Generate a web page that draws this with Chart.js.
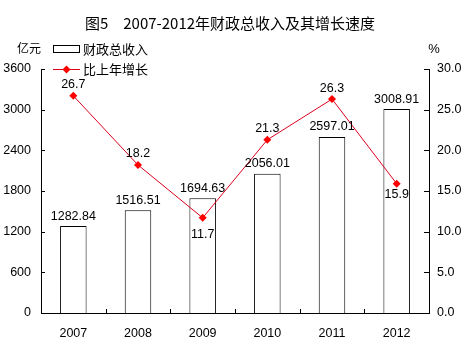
<!DOCTYPE html>
<html>
<head>
<meta charset="utf-8">
<script src="https://cdn.jsdelivr.net/npm/chart.js@4/dist/chart.umd.min.js"></script>
<style>
  html, body { margin: 0; padding: 0; background: #fff; overflow: hidden; }
  #wrap { width: 462px; height: 344px; }
</style>
</head>
<body>
<div id="wrap"><canvas id="grafico"></canvas></div>
<script>
// datos del grafico
const anios = ['2007', '2008', '2009', '2010', '2011', '2012'];
const ingresos = [1282.84, 1516.51, 1694.63, 2056.01, 2597.01, 3008.91];
const crecimiento = [26.7, 18.2, 11.7, 21.3, 26.3, 15.9];
const posEtiquetaLinea = ['top', 'top', 'bottom', 'top', 'top', 'bottom'];

const titulo = '图5　2007-2012年财政总收入及其增长速度';
const fuenteNum = '"Liberation Sans", Arial, sans-serif';
const fuenteCJK = '"Noto Sans CJK SC", "Liberation Sans", sans-serif';
const rojo = 'rgb(220,0,30)';
const rojoPunto = '#ff0000';

const dibujosExtra = {
    id: 'dibujosExtra',
    afterDraw(chart) {
        const ctx = chart.ctx;
        const area = chart.chartArea;
        const x = chart.scales.x, yL = chart.scales.y, yR = chart.scales.y1;
        ctx.save();

        // titulo
        ctx.fillStyle = '#000';
        ctx.font = '15px ' + fuenteCJK;
        ctx.textAlign = 'center';
        ctx.textBaseline = 'middle';
        ctx.fillText(titulo, 230, 23);

        // unidades
        ctx.font = '12px ' + fuenteCJK;
        ctx.fillText('亿元', 29, 48);
        ctx.font = '13px ' + fuenteNum;
        ctx.fillText('%', 434, 49);

        // marcas de los ejes hacia dentro
        ctx.strokeStyle = '#000';
        ctx.lineWidth = 1;
        ctx.beginPath();
        yL.ticks.forEach((t, i) => {
            const py = Math.round(yL.getPixelForTick(i)) + 0.5;
            ctx.moveTo(area.left, py); ctx.lineTo(area.left + 4, py);
        });
        yR.ticks.forEach((t, i) => {
            const py = Math.round(yR.getPixelForTick(i)) + 0.5;
            ctx.moveTo(area.right - 5, py); ctx.lineTo(area.right, py);
        });
        for (let i = 1; i < anios.length; i++) {
            const px = Math.round((x.getPixelForTick(i - 1) + x.getPixelForTick(i)) / 2) + 0.5;
            ctx.moveTo(px, area.bottom); ctx.lineTo(px, area.bottom - 4);
        }
        ctx.stroke();

        // etiquetas de valores
        ctx.fillStyle = '#000';
        ctx.font = '12.5px ' + fuenteNum;
        ctx.textAlign = 'center';
        chart.getDatasetMeta(0).data.forEach((barra, i) => {
            ctx.fillText(ingresos[i].toFixed(2), barra.x, barra.y - 10);
        });
        chart.getDatasetMeta(1).data.forEach((punto, i) => {
            const dy = posEtiquetaLinea[i] === 'top' ? -11 : (i === 2 ? 17 : 11);
            ctx.fillText(crecimiento[i].toFixed(1), punto.x, punto.y + dy);
        });

        // leyenda
        ctx.fillStyle = '#fff';
        ctx.fillRect(53.5, 45.5, 26, 7);
        ctx.strokeStyle = '#000';
        ctx.strokeRect(53.5, 45.5, 26, 7);
        ctx.fillStyle = '#000';
        ctx.textAlign = 'left';
        ctx.font = '13px ' + fuenteCJK;
        ctx.fillText('财政总收入', 83, 49);
        ctx.strokeStyle = rojo;
        ctx.beginPath();
        ctx.moveTo(53, 69.5); ctx.lineTo(80, 69.5);
        ctx.stroke();
        ctx.fillStyle = rojoPunto;
        ctx.beginPath();
        ctx.moveTo(66.5, 65.5); ctx.lineTo(70.5, 69.5); ctx.lineTo(66.5, 73.5); ctx.lineTo(62.5, 69.5);
        ctx.closePath();
        ctx.fill();
        ctx.fillStyle = '#000';
        ctx.fillText('比上年增长', 83, 69);

        ctx.restore();
    }
};

const sinRejilla = { display: false, drawTicks: false, tickLength: 0 };

const ctxGrafico = document.getElementById('grafico').getContext('2d');
new Chart(ctxGrafico, {
    data: {
        labels: anios,
        datasets: [{
            type: 'bar',
            label: '财政总收入',
            data: ingresos,
            backgroundColor: '#fff',
            borderColor: '#000',
            borderWidth: 1,
            barPercentage: 0.41,
            categoryPercentage: 1,
            yAxisID: 'y',
            order: 2
        }, {
            type: 'line',
            label: '比上年增长',
            data: crecimiento,
            borderColor: rojo,
            borderWidth: 1,
            backgroundColor: rojoPunto,
            pointStyle: 'rectRot',
            pointRadius: 4,
            pointBorderWidth: 0,
            tension: 0,
            yAxisID: 'y1',
            order: 1
        }]
    },
    options: {
        responsive: true,
        maintainAspectRatio: false,
        animation: false,
        layout: { padding: { top: 69, left: 0, right: 0, bottom: 0 } },
        plugins: {
            legend: { display: false },
            tooltip: { enabled: false }
        },
        scales: {
            x: {
                grid: sinRejilla,
                border: { color: '#000' },
                ticks: { color: '#000', font: { family: fuenteNum, size: 12.5 }, padding: 13 },
                afterFit(s) { s.height = 31; }
            },
            y: {
                position: 'left',
                min: 0, max: 3600,
                ticks: {
                    stepSize: 600, color: '#000', font: { family: fuenteNum, size: 12.5 }, padding: 10,
                    callback: v => String(v)
                },
                grid: sinRejilla,
                border: { color: '#000' },
                afterFit(s) { s.width = 41; }
            },
            y1: {
                position: 'right',
                min: 0, max: 30,
                ticks: {
                    stepSize: 5, color: '#000', font: { family: fuenteNum, size: 12.5 }, padding: 8,
                    callback: v => v.toFixed(1)
                },
                grid: sinRejilla,
                border: { color: '#000' },
                afterFit(s) { s.width = 33; }
            }
        }
    },
    plugins: [dibujosExtra]
});
</script>
</body>
</html>
